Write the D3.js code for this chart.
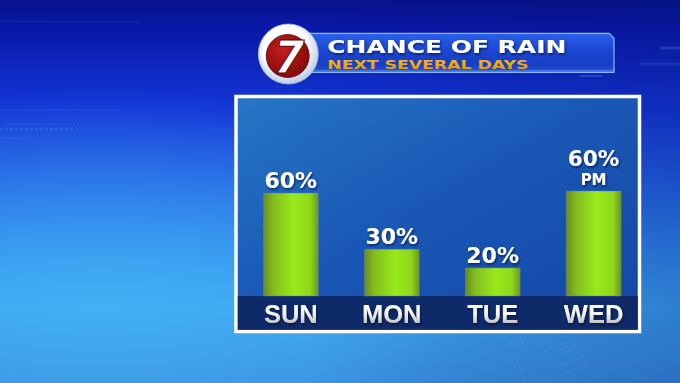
<!DOCTYPE html>
<html>
<head>
<meta charset="utf-8">
<script src="https://cdn.jsdelivr.net/npm/d3@7"></script>
<style>
  html, body { margin: 0; padding: 0; background: #1a4ad8; }
  svg { display: block; }
</style>
</head>
<body>
<svg id="chart" width="680" height="383"></svg>
<script>
// ---- data ----
const days = ["SUN", "MON", "TUE", "WED"];
const chances = [60, 30, 20, 60];
const valueLabels = ["60%", "30%", "20%", "60%"];
const subLabels = ["", "", "", "PM"];
const titleText = "CHANCE OF RAIN";
const subtitleText = "NEXT SEVERAL DAYS";
const logoText = "7";

const W = 680, H = 383;
const svg = d3.select("#chart");
const defs = svg.append("defs");

function linGrad(id, x1, y1, x2, y2, stops) {
  const g = defs.append("linearGradient").attr("id", id)
    .attr("x1", x1).attr("y1", y1).attr("x2", x2).attr("y2", y2);
  stops.forEach(s => g.append("stop").attr("offset", s[0]).attr("stop-color", s[1]).attr("stop-opacity", s[2] == null ? 1 : s[2]));
  return g;
}
linGrad("bgV", 0, 0, 0, 1, [[0, "#07138a"], [0.07, "#0918a8"], [0.28, "#1436d6"], [0.48, "#2466e4"], [0.68, "#3392ec"], [0.8, "#3ca6f1"], [1, "#3a90dc"]]);
linGrad("bgH", 0, 0, 1, 0, [[0, "#000a60", 0], [0.45, "#000a60", 0], [1, "#001070", 0.25]]);
linGrad("panelG", 0, 0, 1, 1, [[0, "#2676c6"], [0.45, "#1a58b6"], [1, "#1446a6"]]);
linGrad("barG", 0, 0, 1, 0, [[0, "#6a8a22"], [0.18, "#84bc1e"], [0.55, "#98ea1a"], [0.85, "#8fd81c"], [1, "#6f9624"]]);
linGrad("dayG", 0, 0, 0, 1, [[0, "#ffffff"], [0.5, "#f4f4f4"], [1, "#a8a8a8"]]);
linGrad("bannerG", 0, 0, 0, 1, [[0, "#2a60ea"], [0.45, "#1b46d2"], [0.8, "#173ec4"], [1, "#2a58d8"]]);
linGrad("goldG", 0, 0, 0, 1, [[0, "#ffbb1a"], [1, "#e09400"]]);

const rg = defs.append("radialGradient").attr("id", "glow")
  .attr("cx", 0.15).attr("cy", 0.78).attr("r", 0.55);
rg.append("stop").attr("offset", 0).attr("stop-color", "#48b8f8").attr("stop-opacity", 0.55);
rg.append("stop").attr("offset", 1).attr("stop-color", "#48b8f8").attr("stop-opacity", 0);

const ringG = defs.append("radialGradient").attr("id", "ringG").attr("cx", 0.45).attr("cy", 0.4).attr("r", 0.6);
ringG.append("stop").attr("offset", 0.6).attr("stop-color", "#ffffff");
ringG.append("stop").attr("offset", 1).attr("stop-color", "#b9cbe8");
const redG = defs.append("radialGradient").attr("id", "redG").attr("cx", 0.4).attr("cy", 0.35).attr("r", 0.7);
redG.append("stop").attr("offset", 0).attr("stop-color", "#c81c1c");
redG.append("stop").attr("offset", 1).attr("stop-color", "#7e0a0a");

const sh = defs.append("filter").attr("id", "shadow").attr("x", "-20%").attr("y", "-20%").attr("width", "140%").attr("height", "150%");
sh.append("feDropShadow").attr("dx", 1).attr("dy", 1.5).attr("stdDeviation", 1).attr("flood-color", "#000a30").attr("flood-opacity", 0.7);

// ---- background ----
svg.append("rect").attr("width", W).attr("height", H).attr("fill", "url(#bgV)");
svg.append("rect").attr("width", W).attr("height", H).attr("fill", "url(#glow)");
svg.append("rect").attr("width", W).attr("height", H).attr("fill", "url(#bgH)");
// faint decorative strokes
const deco = svg.append("g").attr("fill", "none").attr("stroke", "#7fb4ff").attr("stroke-opacity", 0.12).attr("stroke-width", 1);
deco.append("line").attr("x1", 0).attr("y1", 21).attr("x2", 140).attr("y2", 22);
deco.append("line").attr("x1", 0).attr("y1", 110).attr("x2", 120).attr("y2", 110);
deco.append("line").attr("x1", 0).attr("y1", 138).attr("x2", 35).attr("y2", 138);
deco.append("line").attr("x1", 5).attr("y1", 124).attr("x2", 75).attr("y2", 124).attr("stroke-dasharray", "2,2").attr("stroke-opacity", 0.25);
deco.append("line").attr("x1", 0).attr("y1", 129).attr("x2", 75).attr("y2", 129).attr("stroke-dasharray", "3,2").attr("stroke-width", 3).attr("stroke-opacity", 0.15);
deco.append("line").attr("x1", 280).attr("y1", 335).attr("x2", 300).attr("y2", 383);
deco.append("line").attr("x1", 510).attr("y1", 340).attr("x2", 525).attr("y2", 383);
deco.append("line").attr("x1", 520).attr("y1", 336).attr("x2", 537).attr("y2", 383);
deco.append("rect").attr("x", 545).attr("y", 345).attr("width", 30).attr("height", 9).attr("transform", "rotate(-20 560 350)");
deco.append("rect").attr("x", 552).attr("y", 362).attr("width", 34).attr("height", 9).attr("transform", "rotate(-20 570 366)");
deco.append("line").attr("x1", 660).attr("y1", 48).attr("x2", 680).attr("y2", 48).attr("stroke-width", 3).attr("stroke-opacity", 0.2);
deco.append("line").attr("x1", 640).attr("y1", 64).attr("x2", 680).attr("y2", 64).attr("stroke-width", 3).attr("stroke-opacity", 0.12);
deco.append("line").attr("x1", 580).attr("y1", 76).attr("x2", 602).attr("y2", 76).attr("stroke-width", 1.5).attr("stroke-opacity", 0.3);

// ---- panel ----
const panel = {x0: 236, y0: 96.5, x1: 639.5, y1: 331.5};
svg.append("rect").attr("x", panel.x0).attr("y", panel.y0)
  .attr("width", panel.x1 - panel.x0).attr("height", panel.y1 - panel.y0)
  .attr("fill", "url(#panelG)").attr("stroke", "#ffffff").attr("stroke-width", 3.5);

// scales
const x = d3.scaleBand().domain(days).range([240.4, 644]).paddingInner(0.455).paddingOuter(0.227);
const y = d3.scaleLinear().domain([5, 60]).range([296, 193]);

// bottom band
svg.append("rect").attr("x", panel.x0 + 1.75).attr("y", y(5))
  .attr("width", panel.x1 - panel.x0 - 3.5).attr("height", panel.y1 - 1.75 - y(5))
  .attr("fill", "#0f2a69");

// bars
svg.append("g").selectAll("rect").data(days).join("rect")
  .attr("x", d => x(d))
  .attr("y", (d, i) => y(chances[i]) - (i === 3 ? 2 : 0))
  .attr("width", x.bandwidth())
  .attr("height", (d, i) => y(5) - y(chances[i]) + (i === 3 ? 2 : 0))
  .attr("fill", "url(#barG)")
  .attr("stroke", "#4f7fb8").attr("stroke-width", 0.6).attr("stroke-opacity", 0.7);

// value labels
const lbl = svg.append("g").attr("font-family", "'DejaVu Sans', sans-serif").attr("font-weight", "bold")
  .attr("fill", "#ffffff").attr("text-anchor", "middle").attr("filter", "url(#shadow)");
days.forEach((d, i) => {
  const cx = x(d) + x.bandwidth() / 2;
  const top = y(chances[i]) - (i === 3 ? 2 : 0);
  if (subLabels[i]) {
    lbl.append("text").attr("x", cx).attr("y", top - 6).attr("font-size", 15).text(subLabels[i]);
    lbl.append("text").attr("x", cx).attr("y", top - 25).attr("font-size", 21.5).text(valueLabels[i]);
  } else {
    lbl.append("text").attr("x", cx).attr("y", top - 5).attr("font-size", 22).text(valueLabels[i]);
  }
});

// day labels (axis)
const axis = svg.append("g").attr("transform", `translate(0,${y(5)})`)
  .call(d3.axisBottom(x).tickSize(0).tickPadding(0));
axis.select(".domain").remove();
axis.selectAll("text")
  .attr("y", 27).attr("dy", 0)
  .attr("font-family", "'Liberation Sans', Arial, sans-serif").attr("font-weight", "bold")
  .attr("font-size", 25.5)
  .attr("fill", "url(#dayG)")
  .attr("filter", "url(#shadow)");

// ---- title banner ----
const banner = d3.path();
banner.moveTo(300, 33.3);
banner.lineTo(609.3, 33.3);
banner.lineTo(614, 38.3);
banner.lineTo(614, 72.3);
banner.lineTo(300, 72.3);
banner.closePath();
svg.append("path").attr("d", banner.toString()).attr("fill", "url(#bannerG)")
  .attr("stroke", "#8ab6ff").attr("stroke-width", 1.2);
svg.append("line").attr("x1", 300).attr("x2", 613).attr("y1", 71).attr("y2", 71)
  .attr("stroke", "#5a8cf0").attr("stroke-width", 1.2);

svg.append("text").attr("x", 327.3).attr("y", 53)
  .attr("font-family", "'DejaVu Sans', sans-serif").attr("font-weight", "bold")
  .attr("font-size", 18.5).attr("fill", "#ffffff")
  .attr("textLength", 239).attr("lengthAdjust", "spacingAndGlyphs")
  .attr("filter", "url(#shadow)")
  .text(titleText);
svg.append("text").attr("x", 327.3).attr("y", 69)
  .attr("font-family", "'DejaVu Sans', sans-serif").attr("font-weight", "bold")
  .attr("font-size", 12.5).attr("fill", "url(#goldG)")
  .attr("textLength", 201).attr("lengthAdjust", "spacingAndGlyphs")
  .text(subtitleText);

// ---- logo ----
svg.append("circle").attr("cx", 288.3).attr("cy", 54).attr("r", 30)
  .attr("fill", "url(#ringG)").attr("stroke", "#9fb8e6").attr("stroke-width", 0.8);
svg.append("circle").attr("cx", 287.7).attr("cy", 56).attr("r", 21.5)
  .attr("fill", "url(#redG)").attr("stroke", "#6a0606").attr("stroke-width", 0.8);
svg.append("text").attr("x", 289).attr("y", 72.5)
  .attr("text-anchor", "middle")
  .attr("font-family", "'DejaVu Sans', sans-serif").attr("font-weight", "bold").attr("font-style", "italic")
  .attr("font-size", 44).attr("fill", "#ffffff")
  .attr("stroke", "#5a0404").attr("stroke-width", 1)
  .text(logoText);
</script>
</body>
</html>
